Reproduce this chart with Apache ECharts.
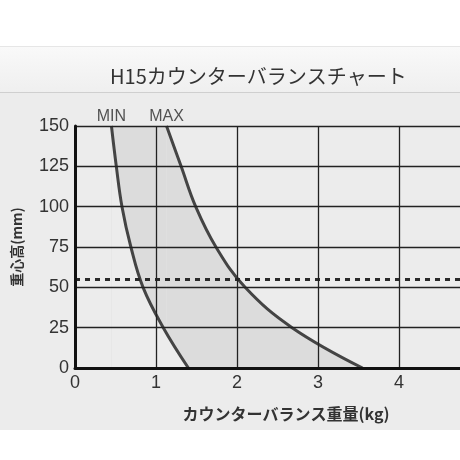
<!DOCTYPE html>
<html>
<head>
<meta charset="utf-8">
<script src="https://cdn.jsdelivr.net/npm/echarts@6/dist/echarts.min.js"></script>
<style>
html,body{margin:0;padding:0;background:#ffffff;}
#wrap{position:relative;width:460px;height:460px;overflow:hidden;}
#band{position:absolute;left:0;top:46px;width:460px;height:46px;background:linear-gradient(#f9f9f9,#efefef);border-top:1px solid #e6e6e6;}
#sep{position:absolute;left:0;top:92px;width:460px;height:1px;background:#cfcfcf;}
#panel{position:absolute;left:0;top:93px;width:460px;height:337px;background:#ececec;}
#chart{position:absolute;left:0;top:0;width:460px;height:460px;}
</style>
</head>
<body>
<div id="wrap">
<div id="band"></div><div id="sep"></div><div id="panel"></div>
<div id="chart"></div>
</div>
<script>
// Data
var titleText = 'H15カウンターバランスチャート';
var xName = 'カウンターバランス重量(kg)';
var yName = '重心高(mm)';
var heights = [150, 125, 100, 75, 50, 25, 0];               // 重心高 (mm)
var minWeight = [0.45, 0.51, 0.58, 0.69, 0.84, 1.09, 1.40]; // MIN curve (kg)
var maxWeight = [1.13, 1.31, 1.49, 1.74, 2.10, 2.68, 3.55]; // MAX curve (kg)
var curveNames = ['MIN', 'MAX'];
var refHeight = [55];
var xTicks = [0, 1, 2, 3, 4];
var yTicks = [0, 25, 50, 75, 100, 125, 150];

function pts(xs) { return xs.map(function (x, i) { return [x, heights[i]]; }); }
var minPts = pts(minWeight);
var maxPts = pts(maxWeight);

var chart = echarts.init(document.getElementById('chart'), null, {renderer: 'canvas'});
var numFont = '"Liberation Sans", Arial, sans-serif';
var jpFont = '"Noto Sans CJK JP", sans-serif';

chart.setOption({
  backgroundColor: 'transparent',
  animation: false,
  title: {
    text: titleText, left: 105, top: 61,
    textStyle: {fontFamily: jpFont, fontSize: 20, fontWeight: 'normal', color: '#333'}
  },
  grid: {left: 75, top: 126, width: 405, height: 242, containLabel: false, outerBoundsMode: 'none'},
  xAxis: {
    type: 'value', min: 0, max: 5, interval: 1, z: 10,
    name: xName, nameLocation: 'middle', nameGap: 38,
    nameTextStyle: {fontFamily: jpFont, fontSize: 16, fontWeight: 'bold', color: '#333', padding: [0, 0, 0, 17]},
    axisLine: {lineStyle: {color: '#111', width: 3}},
    axisTick: {show: false},
    axisLabel: {fontFamily: numFont, fontSize: 18, color: '#333', margin: 6,
      formatter: function (v) { return xTicks.indexOf(v) >= 0 ? String(v) : ''; }},
    splitLine: {show: true, lineStyle: {color: '#222', width: 1.3}}
  },
  yAxis: {
    type: 'value', min: 0, max: 150, interval: 25, z: 10,
    name: yName, nameLocation: 'middle', nameGap: 51,
    nameTextStyle: {fontFamily: jpFont, fontSize: 14, fontWeight: 'bold', color: '#333'},
    axisLine: {show: true, lineStyle: {color: '#111', width: 3}},
    axisTick: {show: false},
    axisLabel: {fontFamily: numFont, fontSize: 18, color: '#333', margin: 6,
      formatter: function (v) { return yTicks.indexOf(v) >= 0 ? String(v) : ''; }},
    splitLine: {show: true, lineStyle: {color: '#222', width: 1.3}}
  },
  series: [
    {
      name: curveNames[1], type: 'line', data: maxPts, smooth: 0.4, symbol: 'none', z: 2,
      lineStyle: {color: '#444', width: 3},
      areaStyle: {color: '#dcdcdc', opacity: 1},
      markArea: {
        silent: true,
        itemStyle: {color: '#dcdcdc', opacity: 1},
        data: [[{coord: [minWeight[0], 0]}, {coord: [maxWeight[0], heights[0]]}]]
      }
    },
    {
      name: curveNames[0], type: 'line', data: minPts, smooth: 0.4, symbol: 'none', z: 3,
      lineStyle: {color: '#444', width: 3},
      areaStyle: {color: '#ececec', opacity: 1},
      markLine: {
        silent: true, symbol: 'none', label: {show: false},
        lineStyle: {color: '#2a2a2a', width: 3, type: [5, 5]},
        data: refHeight.map(function (h) { return {yAxis: h}; })
      }
    },
    {
      type: 'scatter', z: 4, symbolSize: 1,
      itemStyle: {color: 'rgba(0,0,0,0)'},
      data: [minPts[0], maxPts[0]],
      label: {
        show: true, position: 'top', distance: 1,
        fontFamily: numFont, fontSize: 16, color: '#2a2a2a',
        formatter: function (p) { return curveNames[p.dataIndex]; }
      }
    }
  ]
});
</script>
</body>
</html>
